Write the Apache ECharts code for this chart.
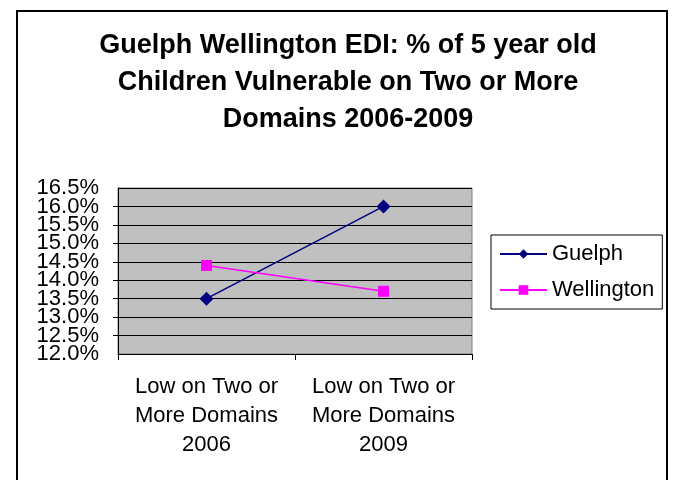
<!DOCTYPE html>
<html>
<head>
<meta charset="utf-8">
<script src="https://cdn.jsdelivr.net/npm/echarts@6/dist/echarts.min.js"></script>
<style>
  html, body { margin: 0; padding: 0; background: #fff; }
  #chart { width: 676px; height: 480px; }
</style>
</head>
<body>
<div id="chart"></div>
<script>
// ---- data ----
const categorias = ['Low on Two or\nMore Domains\n2006', 'Low on Two or\nMore Domains\n2009'];
const guelph = [13.5, 16.0];
const wellington = [14.4, 13.7];
const nomesSeries = ['Guelph', 'Wellington'];
const yMin = 12, yMax = 16.5, yPasso = 0.5;

const chart = echarts.init(document.getElementById('chart'));

const rotuloY = v => v.toFixed(1) + '%';

const option = {
    backgroundColor: '#fff',
    animation: false,
    textStyle: { fontFamily: 'Liberation Sans, Arial, sans-serif' },
    title: {
        text: 'Guelph Wellington EDI: % of 5 year old\nChildren Vulnerable on Two or More\nDomains 2006-2009',
        left: 343,
        textAlign: 'center',
        top: 22,
        textStyle: { fontSize: 27, fontWeight: 'bold', color: '#000', lineHeight: 37 }
    },
    graphic: [{
        type: 'rect',
        shape: { x: 17, y: 11, width: 650, height: 480 },
        style: { fill: 'none', stroke: '#000', lineWidth: 2 },
        silent: true
    }],
    grid: {
        left: 118, right: 204, top: 188, bottom: 126,
        show: true, backgroundColor: '#C0C0C0', borderColor: '#808080', borderWidth: 1
    },
    legend: {
        orient: 'vertical',
        left: 491, top: 235,
        padding: [8, 8, 8, 8],
        itemGap: 14,
        itemWidth: 47, itemHeight: 12,
        borderColor: '#000', borderWidth: 1,
        data: nomesSeries,
        textStyle: { fontSize: 22, color: '#000', padding: [0, 0, 0, 0] }
    },
    xAxis: {
        type: 'category',
        data: categorias,
        boundaryGap: true,
        axisLine: { lineStyle: { color: '#000', width: 1 } },
        axisTick: { show: true, length: 6, lineStyle: { color: '#000' } },
        axisLabel: { interval: 0, fontSize: 22, color: '#000', lineHeight: 29, margin: 18 }
    },
    yAxis: [
        {
            type: 'value',
            position: 'left',
            min: yMin, max: yMax, interval: yPasso,
            axisLine: { show: true, lineStyle: { color: '#000', width: 1 } },
            axisTick: { show: true, length: 5, lineStyle: { color: '#000' } },
            axisLabel: {
                fontSize: 22, color: '#000', margin: 19,
                showMinLabel: false, showMaxLabel: false,
                formatter: rotuloY
            },
            splitLine: { lineStyle: { color: '#000', width: 1 } }
        },
        {
            // second copy of the axis, only for the 12.0% and 16.5% ends
            type: 'value',
            position: 'left',
            offset: 0,
            min: yMin, max: yMax, interval: yPasso,
            axisLine: { show: false },
            axisTick: { show: false },
            splitLine: { show: false },
            axisLabel: {
                fontSize: 22, color: '#000', margin: 19,
                showMinLabel: true, showMaxLabel: true,
                formatter: v => (v === yMin || v === yMax) ? rotuloY(v) : ''
            }
        }
    ],
    series: [
        {
            name: nomesSeries[0],
            type: 'line',
            data: guelph,
            symbol: 'diamond',
            symbolSize: 14,
            color: '#000080',
            lineStyle: { color: '#000080', width: 1.5 },
            itemStyle: { color: '#000080' }
        },
        {
            name: nomesSeries[1],
            type: 'line',
            data: wellington,
            symbol: 'rect',
            symbolSize: 11,
            color: '#FF00FF',
            lineStyle: { color: '#FF00FF', width: 1.5 },
            itemStyle: { color: '#FF00FF' }
        }
    ]
};

chart.setOption(option);
</script>
</body>
</html>
